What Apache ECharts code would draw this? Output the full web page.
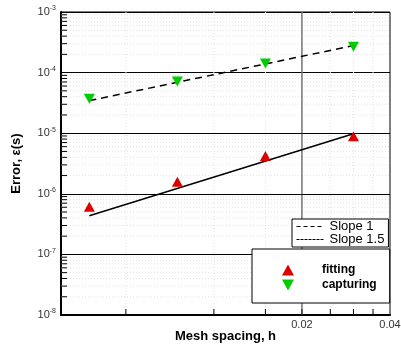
<!DOCTYPE html>
<html>
<head>
<meta charset="utf-8">
<title>Error vs mesh spacing</title>
<script src="https://cdn.jsdelivr.net/npm/echarts@6/dist/echarts.min.js"></script>
<style type="text/css">
    body { margin: 0; background: #fff; }
    #chart_box { width: 401px; height: 349px; }
</style>
</head>
<body>
<div id="chart_box"></div>
<script type="text/javascript">
// mesh spacing h
var meshH = [0.00375, 0.0075, 0.015, 0.03];
// error values
var fittingErr = [6.1e-7, 1.58e-6, 4.2e-6, 8.9e-6];
var capturingErr = [3.7e-5, 7.1e-5, 1.41e-4, 2.68e-4];
// reference slope lines [h, error]
var slope1Line = [[0.00375, 3.45e-5], [0.03, 2.79e-4]];
var slope15Line = [[0.00375, 4.34e-7], [0.03, 9.8e-6]];
// axis decoration
var xMin = 0.003, xMax = 0.04;
var yMin = 1e-8, yMax = 1e-3;
var xTickVals = [0.005, 0.01, 0.015, 0.02, 0.025, 0.03, 0.035];
var xLabelVals = [0.02, 0.04];
var xMajorGrid = [0.02];
var yDecades = [-8, -7, -6, -5, -4];
var yMantissas = [2, 3, 4, 5, 6, 7, 8, 9];

var yMinorVals = [];
yDecades.forEach(function (d) {
    yMinorVals.push.apply(yMinorVals, yMantissas.map(function (m) { return [xMin, m * Math.pow(10, d)]; }));
});

var chart = echarts.init(document.getElementById('chart_box'));

var option = {
    backgroundColor: '#fff',
    animation: false,
    textStyle: { fontFamily: 'Liberation Sans' },
    grid: {
        left: 61, right: 11, top: 12, bottom: 34,
        show: true, borderColor: '#000', borderWidth: 1
    },
    legend: [{
        id: 'slopes',
        orient: 'vertical',
        left: 292, top: 219,
        padding: [1, 4, 1, 4],
        backgroundColor: '#fff',
        borderColor: '#000', borderWidth: 1,
        itemWidth: 28, itemHeight: 10, itemGap: 0,
        itemStyle: { opacity: 0 },
        lineStyle: { width: 1 },
        textStyle: { fontSize: 13, color: '#000' },
        data: [
            { name: 'Slope 1', lineStyle: { type: [4, 3], width: 1 } },
            { name: 'Slope 1.5', lineStyle: { type: [3, 1], width: 1 } }
        ]
    }, {
        id: 'marks',
        orient: 'vertical',
        left: 252, top: 249,
        padding: [15, 13, 12, 30],
        backgroundColor: '#fff',
        borderColor: '#000', borderWidth: 1,
        itemWidth: 12, itemHeight: 11, itemGap: 3,
        textStyle: { fontSize: 12, fontWeight: 'bold', color: '#000', padding: [0, 0, 0, 23] },
        data: ['fitting', 'capturing']
    }],
    xAxis: {
        type: 'log', logBase: 10, min: xMin, max: xMax,
        name: 'Mesh spacing, h', nameLocation: 'middle', nameGap: 15,
        nameTextStyle: { fontSize: 13, fontWeight: 'bold', color: '#000' },
        axisLine: { lineStyle: { color: '#000', width: 2 } },
        axisTick: { show: false },
        axisLabel: { show: false },
        splitLine: { show: false }
    },
    yAxis: {
        type: 'log', logBase: 10, min: yMin, max: yMax, interval: 1,
        name: 'Error, ε(s)', nameLocation: 'middle', nameGap: 38,
        nameTextStyle: { fontSize: 13, fontWeight: 'bold', color: '#000' },
        axisLine: { show: true, lineStyle: { color: '#000', width: 2 } },
        axisTick: { show: false },
        axisLabel: {
            margin: 5,
            formatter: function (v) {
                return '{b|10}{s|' + Math.round(Math.log10(v)) + '}';
            },
            rich: {
                b: { fontSize: 11, color: '#333', lineHeight: 14 },
                s: { fontSize: 7, color: '#333', verticalAlign: 'top', lineHeight: 14, padding: [0, 0, 6, 0] }
            }
        },
        splitLine: { show: true, lineStyle: { color: '#000', width: 1 } }
    },
    series: [{
        // y minor dotted grid + ticks
        type: 'custom', silent: true, z: 1,
        data: yMinorVals,
        renderItem: function (params, api) {
            var p = api.coord([api.value(0), api.value(1)]);
            var cs = params.coordSys;
            return {
                type: 'group', children: [{
                    type: 'line',
                    shape: { x1: cs.x, y1: p[1], x2: cs.x + cs.width, y2: p[1] },
                    style: { stroke: '#e2e2e2', lineWidth: 1, lineDash: [1, 2] }
                }, {
                    type: 'line',
                    shape: { x1: cs.x, y1: p[1], x2: cs.x + 6, y2: p[1] },
                    style: { stroke: '#000', lineWidth: 1 }
                }]
            };
        }
    }, {
        // x ticks + dotted grid
        type: 'custom', silent: true, z: 1,
        data: xTickVals.map(function (v) { return [v, yMin]; }),
        renderItem: function (params, api) {
            var p = api.coord([api.value(0), api.value(1)]);
            var cs = params.coordSys;
            return {
                type: 'group', children: [{
                    type: 'line',
                    shape: { x1: p[0], y1: cs.y, x2: p[0], y2: cs.y + cs.height },
                    style: { stroke: '#e2e2e2', lineWidth: 1, lineDash: [1, 2] }
                }, {
                    type: 'line',
                    shape: { x1: p[0], y1: cs.y + cs.height, x2: p[0], y2: cs.y + cs.height - 6 },
                    style: { stroke: '#000', lineWidth: 1 }
                }]
            };
        }
    }, {
        // major vertical grid
        type: 'custom', silent: true, z: 1,
        data: xMajorGrid.map(function (v) { return [v, yMin]; }),
        renderItem: function (params, api) {
            var p = api.coord([api.value(0), api.value(1)]);
            var cs = params.coordSys;
            return {
                type: 'line',
                shape: { x1: p[0], y1: cs.y, x2: p[0], y2: cs.y + cs.height },
                style: { stroke: '#333', lineWidth: 1 }
            };
        }
    }, {
        // x tick labels
        type: 'custom', silent: true, z: 1,
        data: xLabelVals.map(function (v) { return [v, yMin]; }),
        renderItem: function (params, api) {
            var p = api.coord([api.value(0), api.value(1)]);
            return {
                type: 'text',
                x: p[0], y: p[1] + 4,
                style: {
                    text: String(api.value(0)), fontSize: 11, fill: '#333',
                    fontFamily: 'Liberation Sans', align: 'center', verticalAlign: 'top'
                }
            };
        }
    }, {
        name: 'Slope 1', type: 'line', z: 3,
        symbol: 'none',
        lineStyle: { color: '#000', width: 1.5, type: [7, 5] },
        itemStyle: { color: '#000' },
        data: slope1Line
    }, {
        name: 'Slope 1.5', type: 'line', z: 3,
        symbol: 'none',
        lineStyle: { color: '#000', width: 1.5 },
        itemStyle: { color: '#000' },
        data: slope15Line
    }, {
        name: 'fitting', type: 'scatter', z: 4,
        symbol: 'triangle', symbolSize: [11, 10],
        itemStyle: { color: '#dd0000', opacity: 1 },
        data: meshH.map(function (h, i) { return [h, fittingErr[i]]; })
    }, {
        name: 'capturing', type: 'scatter', z: 4,
        symbol: 'path://M0,0 L10,0 L5,9 Z', symbolSize: [11, 10],
        itemStyle: { color: '#00cc00', opacity: 1 },
        data: meshH.map(function (h, i) { return [h, capturingErr[i]]; })
    }]
};

chart.setOption(option);
</script>
</body>
</html>
